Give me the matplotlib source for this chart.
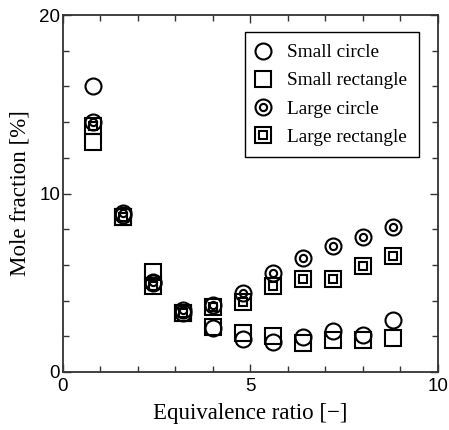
import matplotlib
matplotlib.use("Agg")
from matplotlib import pyplot as plt
from matplotlib.lines import Line2D
from matplotlib.ticker import MultipleLocator
import numpy as np

phi = np.array([0.8, 1.6, 2.4, 3.2, 4.0, 4.8, 5.6, 6.4, 7.2, 8.0, 8.8])
small_circle = np.array([16.0, 8.8, 5.0, 3.3, 2.46, 1.83, 1.70, 1.94, 2.30, 2.07, 2.91])
small_rect = np.array([12.9, 8.7, 5.6, 3.3, 2.54, 2.17, 2.02, 1.64, 1.79, 1.79, 1.92])
large_circle = np.array([14.0, 8.9, 5.06, 3.47, 3.75, 4.41, 5.53, 6.41, 7.08, 7.54, 8.14])
large_rect = np.array([13.8, 8.7, 4.82, 3.28, 3.62, 3.94, 4.82, 5.21, 5.21, 5.96, 6.50])

serif = "Liberation Serif"
sans = "Liberation Sans"

fig = plt.figure(figsize=(4.49, 4.30), dpi=100)
ax = fig.add_axes([0.140, 0.135, 0.8355, 0.830])

ms = 11.5
mi = 5.2
kw = dict(linestyle="none", markerfacecolor="none", markeredgecolor="black", markeredgewidth=1.5)

ax.plot(phi, small_circle, marker="o", markersize=ms, **kw)
ax.plot(phi, small_rect, marker="s", markersize=ms, **kw)
ax.plot(phi, large_circle, marker="o", markersize=ms, **kw)
ax.plot(phi, large_circle, marker="o", markersize=mi, **kw)
ax.plot(phi, large_rect, marker="s", markersize=ms, **kw)
ax.plot(phi, large_rect, marker="s", markersize=mi, **kw)

ax.set_xlim(0, 10)
ax.set_ylim(0, 20)
ax.xaxis.set_major_locator(MultipleLocator(5))
ax.xaxis.set_minor_locator(MultipleLocator(1))
ax.yaxis.set_major_locator(MultipleLocator(10))
ax.yaxis.set_minor_locator(MultipleLocator(2))
ax.tick_params(which="both", direction="in", top=True, right=True, width=1.0, color="#333333")
ax.tick_params(which="major", length=6)
ax.tick_params(which="minor", length=4)
for lab in ax.get_xticklabels() + ax.get_yticklabels():
    lab.set_fontfamily(sans)
    lab.set_fontsize(13.5)
ax.tick_params(axis="x", pad=4)
ax.tick_params(axis="y", pad=2)
for s in ax.spines.values():
    s.set_linewidth(1.3)
    s.set_color("#333333")

ax.set_xlabel("Equivalence ratio [\u2212]", fontfamily=serif, fontsize=16.5, labelpad=6)
ax.set_ylabel("Mole fraction [%]", fontfamily=serif, fontsize=16.6)
ax.yaxis.set_label_coords(-0.085, 0.5)

handles = [
    Line2D([], [], marker="o", markersize=ms, **kw),
    Line2D([], [], marker="s", markersize=ms, **kw),
    (Line2D([], [], marker="o", markersize=ms, **kw), Line2D([], [], marker="o", markersize=mi, **kw)),
    (Line2D([], [], marker="s", markersize=ms, **kw), Line2D([], [], marker="s", markersize=mi, **kw)),
]
labels = ["Small circle", "Small rectangle", "Large circle", "Large rectangle"]
leg = ax.legend(handles, labels, loc="upper right", bbox_to_anchor=(0.949, 0.952),
                borderaxespad=0, prop={"family": serif, "size": 13.9}, fancybox=False,
                framealpha=1, edgecolor="black", handlelength=0.6, handletextpad=0.97,
                labelspacing=0.55, borderpad=0.6)
leg.get_frame().set_linewidth(1.0)

fig.savefig("out.png", dpi=100)
